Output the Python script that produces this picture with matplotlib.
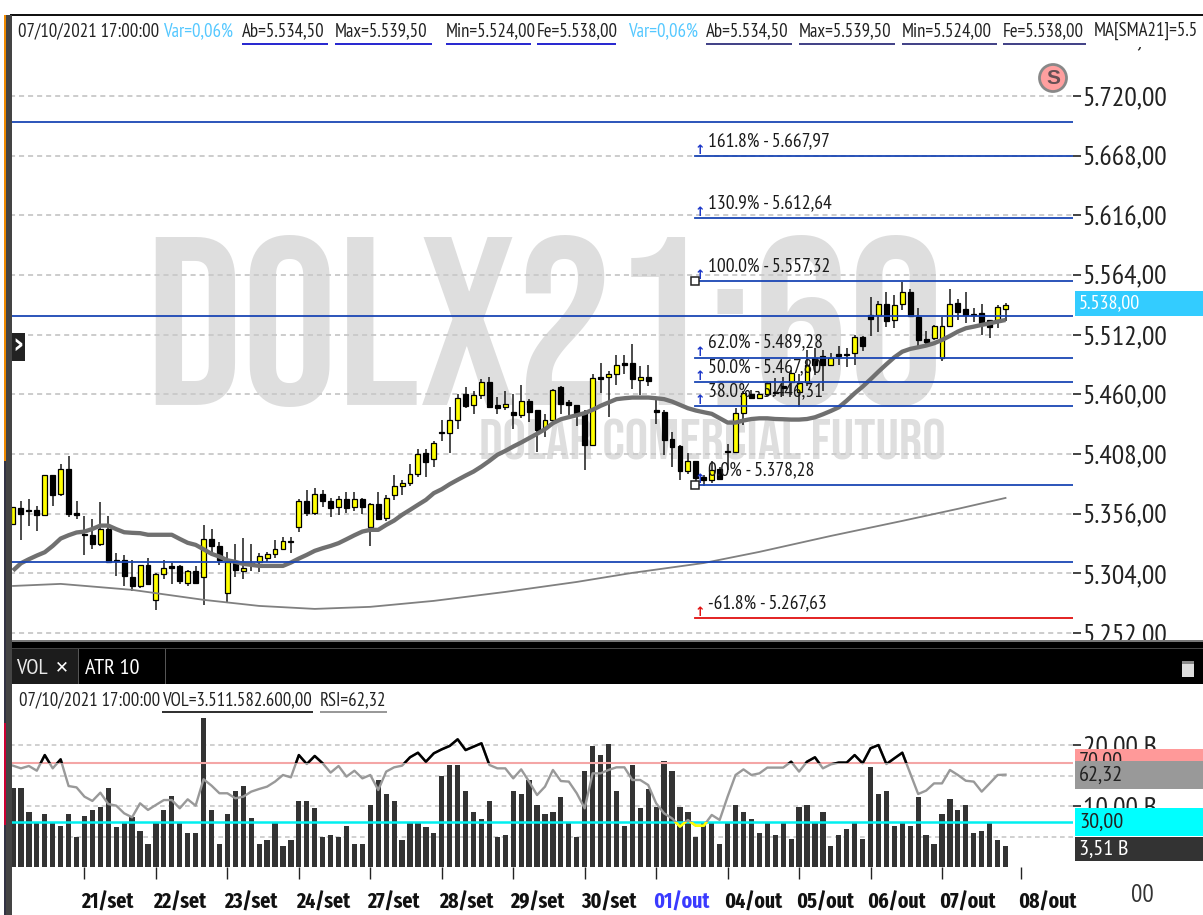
import matplotlib
matplotlib.use("Agg")
import matplotlib.pyplot as plt
from matplotlib.patches import Rectangle, Circle
from matplotlib.transforms import IdentityTransform, ScaledTranslation

W, H = 1203, 915
FONT = ['PT Sans Narrow', 'Liberation Sans', 'DejaVu Sans']
FONT_XC = ['Fira Sans Extra Condensed', 'PT Sans Narrow', 'Liberation Sans', 'DejaVu Sans']
FONT_WM = ['Bebas Neue', 'Fira Sans Extra Condensed', 'PT Sans Narrow', 'Liberation Sans']
plt.rcParams['font.family'] = FONT

UP = "YKKKYKYKKK" "KYKKKKYKYY" "KKYKYKKYKY" "KYYYYKYKYK" "KYKYKYKYYY" \
     "YYKYKYYKYY" "KKYKYKKYYK" "KKKYKYYKKY" "KKKKKYKKYK" "KYYKYYKKYY" \
     "YKKYKKYKKY" "KYYKKKYYYK" "KKKKYY"
HIGHS = [5362,5367,5369,5363,5390,5390,5399,5406,5367,5354,
 5351,5366,5354,5322,5320,5316,5311,5317,5304,5316,
 5313,5311,5307,5310,5346,5343,5331,5323,5330,5335,
 5330,5322,5323,5333,5336,5336,5369,5377,5378,5377,
 5370,5371,5375,5375,5370,5365,5375,5372,5390,5385,
 5399,5412,5412,5419,5438,5449,5460,5466,5462.5,5473,
 5475.5,5458,5462.5,5460,5468,5456,5446,5443,5465,5467,
 5455,5451,5446.5,5478,5487,5480.5,5494,5494.5,5504,5485,
 5486,5455,5446.5,5427,5416,5409,5401.5,5390,5401.5,5397,
 5417,5448,5463,5464,5462,5471,5474,5475,5481,5478,
 5499,5500,5499,5496,5502,5500,5512,5511,5544.5,5541,
 5549.5,5546.5,5558,5552,5535,5515,5520.5,5527,5551.5,5543,
 5549.5,5535,5538.5,5525,5538,5539.5]
BODY_TOP = [5362,5361,5359,5359,5390,5390,5395,5395,5357,5338,
 5337,5343,5343,5316,5316,5301,5311,5311,5303,5309,
 5310,5310,5306,5306,5334,5334,5328,5314,5313,5309,
 5313,5319,5321,5325,5332,5332,5367,5367,5373,5373,
 5367,5369,5369,5369,5369,5364,5364,5370,5380,5383,
 5391,5408,5409,5418,5427,5438,5457,5460,5459,5471,
 5471,5451,5452,5444.5,5454,5454,5446,5438,5464,5466,
 5453,5451,5445,5474,5475.5,5478,5486,5487,5487,5475,
 5475.5,5446,5445,5421.5,5415,5401.5,5401.5,5388,5394,5395,
 5411,5443.5,5461,5460,5460,5469.5,5462,5467,5479,5469.5,
 5485.5,5492,5493.5,5492,5495,5495,5510,5510,5529.5,5539,
 5539,5538,5549,5549.5,5527,5508,5519.5,5519.5,5539,5540,
 5534.7,5530,5531,5525,5536,5538]
BODY_BOT = [5347,5356,5358,5355,5355,5372,5373,5356,5355,5337,
 5330,5330,5314,5315,5302,5293,5293,5295,5281,5303,
 5309,5297,5296,5296,5301,5328,5316,5287,5307,5306,
 5312.5,5314,5317,5321,5325,5331,5344,5357,5357,5367,
 5361,5362,5361,5362,5362,5344,5351,5352,5372,5380,
 5383,5391,5401,5403.5,5426,5426,5438,5450,5450.5,5459,
 5449,5448.5,5449,5442,5442,5445,5428.5,5431,5437.5,5452,
 5450.5,5444,5416,5416,5473.5,5475,5478,5486,5473,5472.5,
 5472,5445,5420,5414.5,5393,5393,5387,5385,5385,5386.5,
 5409.5,5410,5443.5,5457,5457,5460,5461,5465.5,5471,5462,
 5471,5485.5,5486,5486,5493.5,5494.5,5496,5502.5,5525.5,5529,
 5524,5525,5539,5528,5507,5506,5509,5492,5519.5,5532,
 5529,5529,5522,5518.4,5525,5534.5]
LOWS = [5346,5333,5345,5341,5355,5363,5371,5353,5351,5320,
 5325,5328,5314,5302,5293,5289,5291,5294,5272,5299,
 5295,5295,5293,5295,5276,5319,5311,5279,5301,5299,
 5306,5305,5314,5317,5325,5322,5340,5354,5355,5362,
 5353,5355,5357,5358,5356,5328,5351,5350,5368,5372,
 5380,5388,5388,5397,5419,5409,5430,5448,5443,5456,
 5448.5,5443,5446.5,5430,5439,5436,5410,5423,5436,5443,
 5442,5432,5394,5416,5461,5440,5468,5478,5464.5,5459,
 5467,5434,5407,5397,5385.5,5391,5380,5380,5383,5385,
 5394,5409,5433,5456,5456.5,5458.5,5458.5,5458.5,5459.5,5449,
 5467,5477,5463,5485,5485.5,5484,5486,5498,5511,5514,
 5519,5518,5533.5,5528,5502,5501,5507,5489,5519,5525,
 5522,5523,5512,5509,5518,5524]
SMA21 = [5306.4,5312.8,5316.3,5319.5,5322.4,5327.9,5334.3,5337.2,5339.6,5340.4,
 5342.7,5345.6,5345.6,5342.5,5339.8,5339.3,5339,5337.6,5337.6,5337.6,
 5337.6,5334,5330.6,5328.8,5325,5321,5318.6,5315.4,5314,5312.2,
 5311.4,5310.5,5310.5,5310.5,5310.5,5313.4,5316.9,5320.1,5323.6,5325.9,
 5327.9,5330.3,5333.7,5337.2,5340.4,5341.9,5341.9,5346.2,5350,5355,
 5359.3,5363.7,5368,5373.9,5377.3,5381.7,5385.5,5389.2,5392.7,5397.1,
 5402,5407.3,5410.7,5414.5,5418,5421.8,5425.6,5429.6,5434.9,5438.3,
 5440.1,5441.8,5443.6,5446.5,5450,5452.9,5455.8,5456.6,5457.2,5457.2,
 5457.2,5456.6,5455.8,5453.7,5450.8,5447.9,5445.9,5444.4,5443,5439.2,
 5435.4,5435.4,5437.2,5438.5,5439.1,5439.1,5438.5,5438.3,5438,5438,
 5438.5,5440,5442.6,5445.5,5448.7,5454.5,5460.9,5466.7,5473.1,5479.8,
 5486.2,5492.3,5497.2,5499.6,5501,5502.5,5504.5,5507.4,5510.9,5514.7,
 5517.6,5519,5520.5,5521.9,5523.4,5524.8]
LONG_MA_BARS = [0,6,15,24,31,38,45,53,62,71,78,87,94,103,112,119,125]
LONG_MA = [5293,5294.8,5289.6,5280.9,5275.6,5273,5274.8,5280,5287.8,5296.5,
           5304.4,5313,5322.7,5336.6,5349.7,5360.2,5369.7]
VOLUME_B = [13.0,13.0,9.0,7.2,8.7,7.2,6.8,8.7,4.9,8.4,
 9.3,9.9,13.0,6.6,7.2,8.2,5.9,3.7,7.2,9.3,
 11.7,7.2,5.6,5.6,24.5,9.3,3.7,8.7,12.4,13.3,
 8.1,3.7,4.4,7.2,3.4,4.4,10.8,10.8,9.6,4.9,
 5.3,4.9,6.8,3.7,3.7,10.2,14.2,12.0,10.8,4.4,
 7.2,7.2,6.6,5.6,14.9,16.8,16.8,12.4,9.0,7.8,
 10.8,5.0,5.2,12.4,12.0,14.2,10.2,8.7,9.0,11.5,
 7.2,4.9,15.7,19.8,18.3,20.1,12.4,6.8,16.8,9.6,
 12.8,9.8,17.4,15.7,9.9,9.0,4.9,7.2,7.2,3.7,
 7.2,10.2,9.0,7.8,5.6,7.2,5.2,7.2,4.6,9.9,
 10.2,7.2,9.0,3.4,5.2,6.2,7.2,4.6,16.4,12.0,
 12.4,6.8,7.2,6.8,11.5,5.2,3.7,8.7,11.1,9.3,
 10.2,5.6,5.9,7.2,4.4,3.51]
RSI = [68.4,66.6,68.2,65,75.6,66.6,72.7,54.6,53.7,47.4,
 44.5,50.1,42.4,41.3,36.1,33.4,42.9,38.4,41.8,45.1,
 45.1,39.5,45.6,41.3,59.2,54.9,49.7,49.7,46.3,47.4,
 50.8,52.6,54.2,57.6,62.1,60.5,75.6,69.5,75,70,
 63.7,68.2,61,65,59.8,62.1,51.9,64.4,67.3,68.4,
 74.1,77.2,71.1,76.8,79.5,81.8,86.3,79,81.3,83.6,
 68.9,66.6,66.6,59.8,65.9,57.6,48.5,54.2,65.5,58,
 57.6,49.7,39.5,63.2,63.2,65.5,67.3,67.3,58.7,58.7,
 55.3,42.9,36.1,32.7,27.1,31.6,27.7,27.7,35,31.6,
 47.4,62.1,65.9,62.1,63.2,67.1,67.1,67.1,71.1,64.4,
 71.1,74.1,66.6,69.3,70.5,70.5,75.6,70,80.2,82.4,
 69.5,73.4,77.2,63.2,49.2,51.5,56.4,56.4,65.5,62.1,
 58.2,57.6,50.8,56.4,62.1,62.32]

PRICE_TICKS = [5252,5304,5356,5408,5460,5512,5564,5616,5668,5720,5772]
HLINE_LEVELS = [5697.3,5528.3,5313.9]
FIB_LEVELS = [5667.7,5613.7,5558.8,5491.7,5470.7,5449.8,5381,5265]
FIB_LABELS = ["161.8% - 5.667,97","130.9% - 5.612,64","100.0% - 5.557,32","62.0% - 5.489,28",
              "50.0% - 5.467,80","38.0% - 5.446,31","0.0% - 5.378,28","-61.8% - 5.267,63"]
DATE_BARS = [9,18,27,36,45,54,63,72,81,90,99,108,117,127]
DATE_LABELS = ["21/set","22/set","23/set","24/set","27/set","28/set","29/set","30/set",
               "01/out","04/out","05/out","06/out","07/out","08/out"]
VOL_TICKS = [10,20]
VOL_MINOR = [5,15]

fig = plt.figure(figsize=(W/100, H/100), dpi=100, facecolor='white')

def pos(x0, y0, x1, y1):
    return [x0/W, 1-y1/H, (x1-x0)/W, (y1-y0)/H]
def P(x, y):
    return x/W, 1-y/H
def box(x0, y0, x1, y1, color, z=5):
    fig.add_artist(Rectangle(P(x0, y1), (x1-x0)/W, (y1-y0)/H, transform=fig.transFigure,
                             facecolor=color, edgecolor='none', zorder=z))
def label(x, y, s, size=14, color='#111111', z=20, **kw):
    kw.setdefault('va', 'center')
    return fig.text(*P(x, y), s, fontsize=size, color=color, zorder=z, **kw)

XLIM = (-0.378, 133.5)
n = len(HIGHS)
bars = list(range(n))
BLUE = '#1a46b4'
DASH = (0, (2.8, 2.2))

# ---- price panel
ax = fig.add_axes(pos(10, 15, 1073, 640))
ax.set_xlim(*XLIM)
ax.set_ylim(5245.9, 5790.6)
for s in ax.spines.values():
    s.set_visible(False)
ax.set_axisbelow(True)
ax.yaxis.tick_right()
ax.set_yticks(PRICE_TICKS)
ax.set_yticklabels([f"{v//1000}.{v%1000:03d},00" for v in PRICE_TICKS], fontsize=20, color='#222222')
ax.tick_params(axis='y', length=6, width=1.2, color='#222222', pad=1)
ax.set_xticks([])
ax.grid(axis='y', color='#c8c8c8', linestyle=DASH, linewidth=1.3)
ax.text(*P(545, 405), "DOLX21:60", transform=fig.transFigure, fontsize=172,
        color='#dedede', ha='center', va='baseline', zorder=0, family=FONT_WM)
ax.text(*P(712, 459), "DOLAR COMERCIAL FUTURO", transform=fig.transFigure, fontsize=42,
        color='#dedede', ha='center', va='baseline', zorder=0, family=FONT_WM)

colors = ['#ffff00' if c == 'Y' else '#000000' for c in UP]
ax.vlines(bars, LOWS, HIGHS, color='#1a1a1a', linewidth=1.1, zorder=2)
ax.bar(bars, [t-b for t, b in zip(BODY_TOP, BODY_BOT)], bottom=BODY_BOT, width=0.62,
       color=colors, edgecolor='black', linewidth=0.9, zorder=3)
ax.plot(bars, SMA21, color='#707070', linewidth=3.1, zorder=4, solid_capstyle='butt')
ax.plot(LONG_MA_BARS, LONG_MA, color='#808080', linewidth=1.3, zorder=4)
for lv in HLINE_LEVELS:
    ax.axhline(lv, color=BLUE, linewidth=1.3, zorder=5)
FIB_START = 85.9
for i, (lv, txt) in enumerate(zip(FIB_LEVELS, FIB_LABELS)):
    col = '#e01010' if i == len(FIB_LEVELS)-1 else BLUE
    ax.plot([FIB_START, XLIM[1]], [lv, lv], color=col, linewidth=1.3, zorder=5)
    ax.annotate(txt, (FIB_START, lv), xytext=(9.5, 4.5), textcoords='offset points', fontsize=14,
                color='#1a1a1a', va='bottom', ha='left', zorder=6)
    ax.annotate('↑', (FIB_START+0.6, lv), xytext=(0, -1), textcoords='offset points', fontsize=9,
                color='#e01010' if col == '#e01010' else '#1a35c8', va='bottom', ha='center', zorder=6,
                family='DejaVu Sans', fontweight='bold')
ax.plot([FIB_START, FIB_START], [FIB_LEVELS[2], FIB_LEVELS[6]], linestyle='none', marker='s', ms=6.2,
        mfc='white', mec='#222222', mew=1.1, zorder=7)

# ---- lower panel
axv = fig.add_axes(pos(10, 684, 1073, 867))
axv.set_xlim(*XLIM)
axv.set_ylim(0, 30)
for s in axv.spines.values():
    s.set_visible(False)
axv.set_axisbelow(True)
axv.bar(bars, VOLUME_B, width=0.66, color='#333333', zorder=2)

axr = axv.twinx()
axv.yaxis.tick_right()
axv.set_yticks(VOL_TICKS)
axv.set_yticks(VOL_MINOR, minor=True)
axv.set_yticklabels([f"{v},00 B" for v in VOL_TICKS], fontsize=20, color='#222222')
axv.tick_params(axis='y', which='major', length=6, width=1.2, color='#222222', pad=1)
axv.tick_params(axis='y', which='minor', length=0)
axv.grid(axis='y', which='both', color='#c8c8c8', linestyle=DASH, linewidth=1.2)
axv.set_xticks(DATE_BARS)
axv.set_xticklabels(DATE_LABELS, fontsize=15.5, fontweight='bold', color='#111111', ha='left',
                    family=FONT_XC)
axv.tick_params(axis='x', length=8.6, width=1, color='#222222', pad=9)
shift = ScaledTranslation(-3/100, 0, fig.dpi_scale_trans)
for tl, tk in zip(axv.get_xticklabels(), axv.xaxis.get_major_ticks()):
    tl.set_transform(tl.get_transform() + shift)
    if tl.get_text() == "01/out":
        tl.set_color('#3a3aff')
        tk.tick1line.set_color('#3a3aff')

axr.set_ylim(-0.3, 123.8)
axr.set_xlim(*XLIM)
axr.axis('off')
axr.axhline(70, color='#f4a6a6', linewidth=1.5, zorder=1)
axr.axhline(30, color='#00f0f0', linewidth=1.8, zorder=1)
axr.plot(bars, RSI, color='#999999', linewidth=1.7, zorder=2)
hi, = axr.plot(bars, RSI, color='#000000', linewidth=1.8, zorder=3)
hi.set_clip_path(Rectangle((XLIM[0], 70), XLIM[1]-XLIM[0], 60, transform=axr.transData))
lo, = axr.plot(bars, RSI, color='#ffff00', linewidth=1.8, zorder=3)
lo.set_clip_path(Rectangle((XLIM[0], 0), XLIM[1]-XLIM[0], 30, transform=axr.transData))

# ---- chrome: header
box(10, 15, 1203, 47, 'white')
box(10, 14, 1203, 16, '#111111', 6)
hdr = [(18, "07/10/2021 17:00:00", '#222222', None), (163, "Var=0,06%", '#55c8ff', None),
       (242, "Ab=5.534,50", '#222222', 86), (335, "Max=5.539,50", '#222222', 97),
       (446, "Min=5.524,00", '#222222', 85), (537, "Fe=5.538,00", '#222222', 79),
       (628, "Var=0,06%", '#55c8ff', None), (706, "Ab=5.534,50", '#222222', 86),
       (799, "Max=5.539,50", '#222222', 96), (902, "Min=5.524,00", '#222222', 95),
       (1003, "Fe=5.538,00", '#222222', 83), (1094, "MA[SMA21]=5.5", '#222222', None)]
for x, s, c, u in hdr:
    label(x, 31, s, 13.5, c, ha='left')
    if u:
        box(x, 43, x+u, 45, '#2a2ad0' if x < 640 else '#444488', 6)

# ---- chrome: bands
box(10, 640, 1203, 684, '#000000')
box(10, 640, 1203, 642, '#777777', 6)
box(12, 649, 78, 684, '#1c1c1c', 6)
box(78, 649, 79, 684, '#555555', 6)
box(165, 649, 166, 684, '#555555', 6)
box(10, 648, 1203, 649, '#444444', 6)
label(16, 668, "VOL", 16, '#e8e8e8', ha='left')
label(62, 667, "✕", 12, 'white', ha='center', fontweight='bold', family=['DejaVu Sans'])
label(85, 668, "ATR 10", 16, 'white', ha='left')
box(1182, 661, 1194, 677, '#dddddd', 6)
box(1182, 661, 1194, 664, '#888888', 7)

# ---- chrome: left strip
box(4, 15, 12, 915, '#444444', 6)
box(4, 15, 6, 461, '#f08a00', 7)
box(4, 461, 6, 915, '#333344', 7)
box(4, 723, 6, 825, '#cc0033', 8)
box(12, 333, 25, 361, '#222222', 6)
label(18.5, 345, "›", 20, 'white', ha='center', fontweight='bold', family=['DejaVu Sans'])

# ---- chrome: info line
label(19, 700, "07/10/2021 17:00:00", 13.5, '#222222', ha='left')
label(162, 700, "VOL=3.511.582.600,00", 13.5, '#222222', ha='left')
box(162, 711, 313, 713, '#333333', 6)
label(320, 700, "RSI=62,32", 13.5, '#222222', ha='left')
box(320, 711, 387, 713, '#999999', 6)

# ---- price tags
box(1075, 291, 1203, 316, '#33ccff')
label(1079, 303, "5.538,00", 14.5, 'white', ha='left')
box(1075, 749, 1203, 762, '#ff9999')
label(1079, 761, "70,00", 16, '#222222', ha='left', z=7)
box(1075, 761, 1203, 789, '#999999', 8)
label(1079, 775, "62,32", 16, '#222222', ha='left')
box(1075, 808, 1203, 836, '#00ffff')
label(1079, 822, "30,00", 16, '#222222', ha='left')
box(1075, 837, 1203, 861, '#333333')
label(1079, 849, "3,51 B", 16, 'white', ha='left')
label(1142, 896, "00", 18, '#333333', ha='center')

# ---- S badge
fig.add_artist(Circle((1053, H-78), 13.5, transform=IdentityTransform(), facecolor='#ff9f9f',
                      edgecolor='#888888', linewidth=2, zorder=6))
label(1053, 78, "S", 15, '#665055', ha='center', fontweight='bold', family=['Liberation Sans'])

fig.savefig('out.png', dpi=100)
